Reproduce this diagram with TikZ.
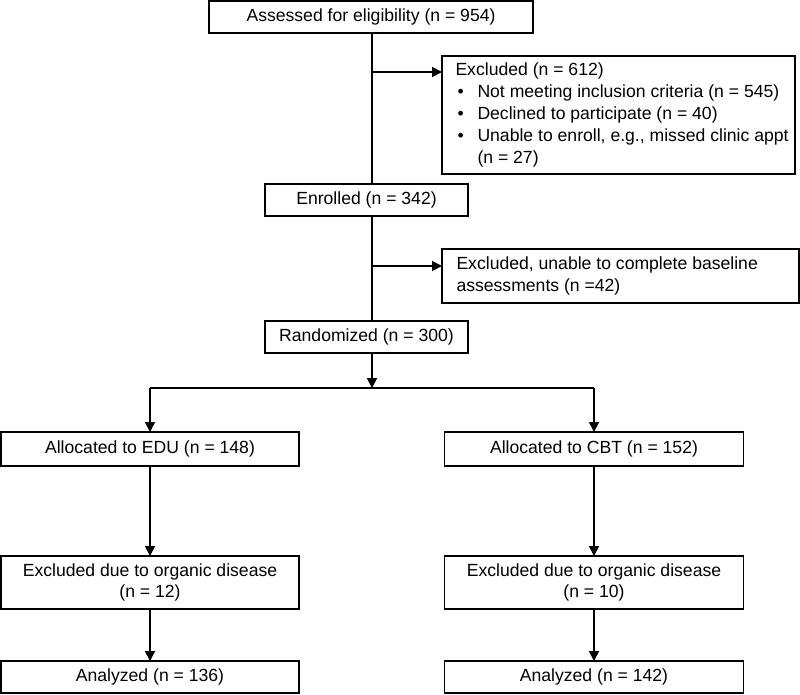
\documentclass[tikz,border=0pt]{standalone}
\usepackage{fontspec}
\setmainfont{Liberation Sans}
\usetikzlibrary{arrows.meta,calc}
\begin{document}
\begin{tikzpicture}[x=1pt,y=-1pt,
  box/.style={draw=black,line width=1.8pt,inner sep=0pt,outer sep=0pt,align=center,
    font=\fontsize{17.6}{21.5}\selectfont},
  conn/.style={line width=1.8pt,draw=black},
  arr/.style={conn,-{Triangle[length=10pt,width=10pt]}}]
\useasboundingbox (0,0) rectangle (800,694);
% nodes
\node[box,minimum width=324pt,minimum height=32pt] (a) at (371,17) {Assessed for eligibility (n = 954)};
\node[box,minimum width=353pt,minimum height=118pt,anchor=north west,align=left] (ex1) at (442,56)
  {\hspace*{12pt}\begin{minipage}[c]{338pt}\fontsize{17.6}{22}\selectfont
   Excluded (n = 612)\\
   \hspace*{2pt}\makebox[20pt][l]{\textbullet}Not meeting inclusion criteria (n = 545)\\
   \hspace*{2pt}\makebox[20pt][l]{\textbullet}Declined to participate (n = 40)\\
   \hspace*{2pt}\makebox[20pt][l]{\textbullet}Unable to enroll, e.g., missed clinic appt\\
   \hspace*{22pt}(n = 27)\end{minipage}};
\node[box,minimum width=203pt,minimum height=32pt] (en) at (366.5,200) {Enrolled (n = 342)};
\node[box,minimum width=357pt,minimum height=54pt,anchor=north west,align=left] (ex2) at (442,249)
  {\hspace*{12pt}\begin{minipage}[c]{340pt}\fontsize{17.6}{22}\selectfont
   Excluded, unable to complete baseline\\assessments (n =42)\end{minipage}};
\node[box,minimum width=203pt,minimum height=32pt] (rnd) at (366.5,337) {Randomized (n = 300)};
\node[box,minimum width=298pt,minimum height=34pt] (edu) at (150,449) {Allocated to EDU (n = 148)};
\node[box,minimum width=299pt,minimum height=34pt] (cbt) at (594,449) {Allocated to CBT (n = 152)};
\node[box,minimum width=298pt,minimum height=53pt] (exe) at (150,582.5) {Excluded due to organic disease\\(n = 12)};
\node[box,minimum width=299pt,minimum height=53pt] (exc) at (594,582.5) {Excluded due to organic disease\\(n = 10)};
\node[box,minimum width=298pt,minimum height=32pt] (ane) at (150,677) {Analyzed (n = 136)};
\node[box,minimum width=299pt,minimum height=32pt] (anc) at (594,677) {Analyzed (n = 142)};
% junction coordinates
\coordinate (j1) at (372,72);
\coordinate (j2) at (372,266);
\coordinate (sp) at (372,388);
% connectors
\draw[conn] (a.south -| j1) -- (en.north -| j1);
\draw[arr] (j1) -- (j1 -| ex1.west);
\draw[conn] (en.south -| j1) -- (rnd.north -| j1);
\draw[arr] (j2) -- (j2 -| ex2.west);
\draw[arr] (rnd.south -| sp) -- (sp);
\draw[conn] (sp -| edu) -- (sp -| cbt);
\draw[arr] (sp -| edu) -- (edu.north);
\draw[arr] (sp -| cbt) -- (cbt.north);
\draw[arr] (edu.south) -- (exe.north);
\draw[arr] (cbt.south) -- (exc.north);
\draw[arr] (exe.south) -- (ane.north);
\draw[arr] (exc.south) -- (anc.north);
\end{tikzpicture}
\end{document}
